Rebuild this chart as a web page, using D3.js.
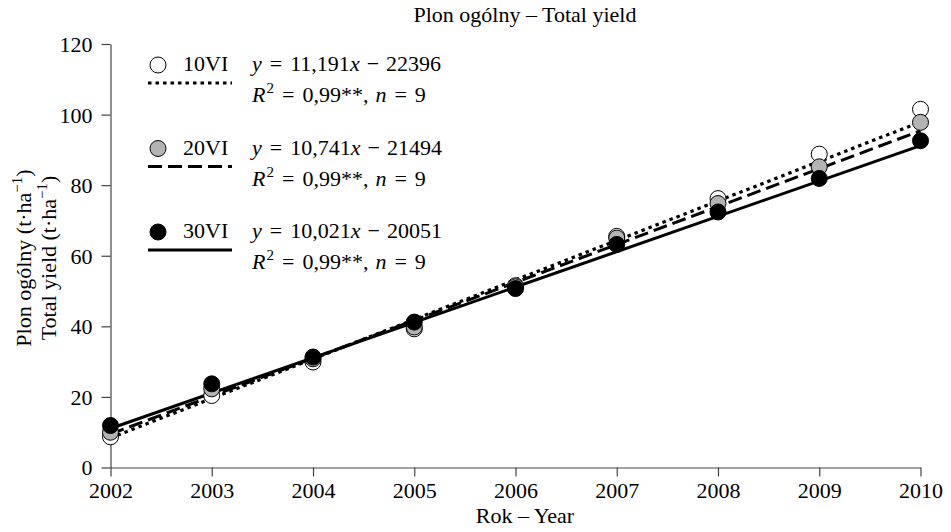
<!DOCTYPE html>
<html>
<head>
<meta charset="utf-8">
<script src="https://cdn.jsdelivr.net/npm/d3@7/dist/d3.min.js"></script>
<style>
  html, body { margin: 0; padding: 0; background: #fff; }
  svg { display: block; }
  text { font-family: "Liberation Serif", "Times New Roman", serif; fill: #000; }
</style>
</head>
<body>
<svg id="chart" width="951" height="532"></svg>
<script>
// Years of observation
const years = [2002, 2003, 2004, 2005, 2006, 2007, 2008, 2009, 2010];
// Total yield (t/ha) for the three planting dates
const yield10VI = [8.7, 20.4, 29.9, 39.3, 51.5, 65.5, 76.2, 88.8, 101.5];
const yield20VI = [10.0, 22.3, 30.8, 39.8, 51.2, 65.0, 74.8, 85.2, 97.8];
const yield30VI = [11.9, 23.7, 31.3, 41.2, 50.7, 63.2, 72.4, 81.9, 92.6];
// Linear trend coefficients: y = slope * year - offset
const slopes = [11.191, 10.741, 10.021];
const offsets = [22396, 21494, 20051];
const seriesNames = ["10VI", "20VI", "30VI"];
const slopeLabels = ["11,191", "10,741", "10,021"];
const offsetLabels = ["22396", "21494", "20051"];
const r2Labels = ["0,99**", "0,99**", "0,99**"];
const nLabels = ["9", "9", "9"];
const yTicks = [0, 20, 40, 60, 80, 100, 120];

const fills = ["#ffffff", "#b3b3b3", "#000000"];
const dashes = ["3.5,4", "14,6", null];
const widths = [3.2, 3, 3];

const svg = d3.select("#chart");
const FS = 22;

const x = d3.scaleLinear().domain([2002, 2010]).range([110.5, 920.5]);
const y = d3.scaleLinear().domain([0, 120]).range([467.5, 44]);

// Axes
const xAxis = d3.axisBottom(x).tickValues(years).tickFormat(d3.format("d"))
  .tickSize(9).tickSizeOuter(0);
const yAxis = d3.axisLeft(y).tickValues(yTicks).tickSize(9).tickSizeOuter(0);

const gx = svg.append("g").attr("transform", `translate(0,${y(0)})`).call(xAxis);
const gy = svg.append("g").attr("transform", `translate(${x(2002)},0)`).call(yAxis);

[gx, gy].forEach(g => {
  g.select(".domain").attr("stroke", "#444").attr("stroke-width", 1.2);
  g.selectAll(".tick line").attr("stroke", "#444").attr("stroke-width", 1.2);
  g.selectAll(".tick text").attr("font-family", "Liberation Serif, serif")
    .attr("font-size", FS).attr("fill", "#000");
});
gx.selectAll(".tick text").attr("dy", null).attr("y", 30);
gy.selectAll(".tick text").attr("x", -18).attr("dy", "0.34em");

// Trend lines
const series = [yield10VI, yield20VI, yield30VI];
const lineGen = d3.line().x(d => x(d[0])).y(d => y(d[1]));
series.forEach((vals, i) => {
  const trend = [2002, 2010].map(t => [t, slopes[i] * t - offsets[i]]);
  svg.append("path")
    .attr("d", lineGen(trend))
    .attr("fill", "none")
    .attr("stroke", "#000")
    .attr("stroke-width", widths[i])
    .attr("stroke-dasharray", dashes[i]);
});

// Points: white first, then grey, black on top
series.forEach((vals, i) => {
  svg.append("g").selectAll("circle")
    .data(years.map((yr, k) => [yr, vals[k]]))
    .join("circle")
    .attr("cx", d => x(d[0]))
    .attr("cy", d => y(d[1]))
    .attr("r", 8)
    .attr("fill", fills[i])
    .attr("stroke", "#000")
    .attr("stroke-width", 1);
});

// Appends a sequence of [text, italic, dx] runs as tspans
function mathRuns(textSel, runs) {
  runs.forEach(([s, it, dx, extra]) => {
    const t = textSel.append("tspan").text(s);
    if (it) t.attr("font-style", "italic");
    if (dx) t.attr("dx", dx);
    if (extra) extra(t);
  });
}

// Legend with regression equations
const legendRows = [65, 148.5, 232];
legendRows.forEach((cy, i) => {
  const g = svg.append("g");
  g.append("circle").attr("cx", 158).attr("cy", cy).attr("r", 8)
    .attr("fill", fills[i]).attr("stroke", "#000").attr("stroke-width", 1);
  g.append("text").attr("x", 183).attr("y", cy + 6).attr("font-size", FS)
    .text(seriesNames[i]);
  g.append("line").attr("x1", 148).attr("x2", 232)
    .attr("y1", cy + 18).attr("y2", cy + 18)
    .attr("stroke", "#000").attr("stroke-width", widths[i])
    .attr("stroke-dasharray", dashes[i]);

  const eq = g.append("text").attr("x", 252).attr("y", cy + 6).attr("font-size", FS);
  mathRuns(eq, [
    ["y", true, 0],
    ["=", false, 8],
    [slopeLabels[i], false, 8],
    ["x", true, 0],
    ["\u2212", false, 7],
    [offsetLabels[i], false, 7]
  ]);

  const r2 = g.append("text").attr("x", 252).attr("y", cy + 37).attr("font-size", FS);
  mathRuns(r2, [
    ["R", true, 0],
    ["2", false, 1, t => t.attr("font-size", 15).attr("dy", -9)],
    ["=", false, 8, t => t.attr("dy", 9)],
    [r2Labels[i] + ",", false, 8],
    ["n", true, 7],
    ["=", false, 8],
    [nLabels[i], false, 8]
  ]);
});

// Titles
svg.append("text").attr("x", 525).attr("y", 22).attr("text-anchor", "middle")
  .attr("font-size", FS).text("Plon ogólny \u2013 Total yield");
svg.append("text").attr("x", 525).attr("y", 523).attr("text-anchor", "middle")
  .attr("font-size", FS).text("Rok \u2013 Year");

// Y axis title, two lines
const yLabels = [["Plon ogólny (t\u00b7ha", 31], ["Total yield (t\u00b7ha", 56]];
yLabels.forEach(([txt, bx]) => {
  const t = svg.append("text")
    .attr("transform", `translate(${bx},258) rotate(-90)`)
    .attr("text-anchor", "middle").attr("font-size", FS);
  t.append("tspan").text(txt);
  t.append("tspan").attr("font-size", 15).attr("dy", -9).text("\u22121");
  t.append("tspan").attr("dy", 9).text(")");
});
</script>
</body>
</html>
